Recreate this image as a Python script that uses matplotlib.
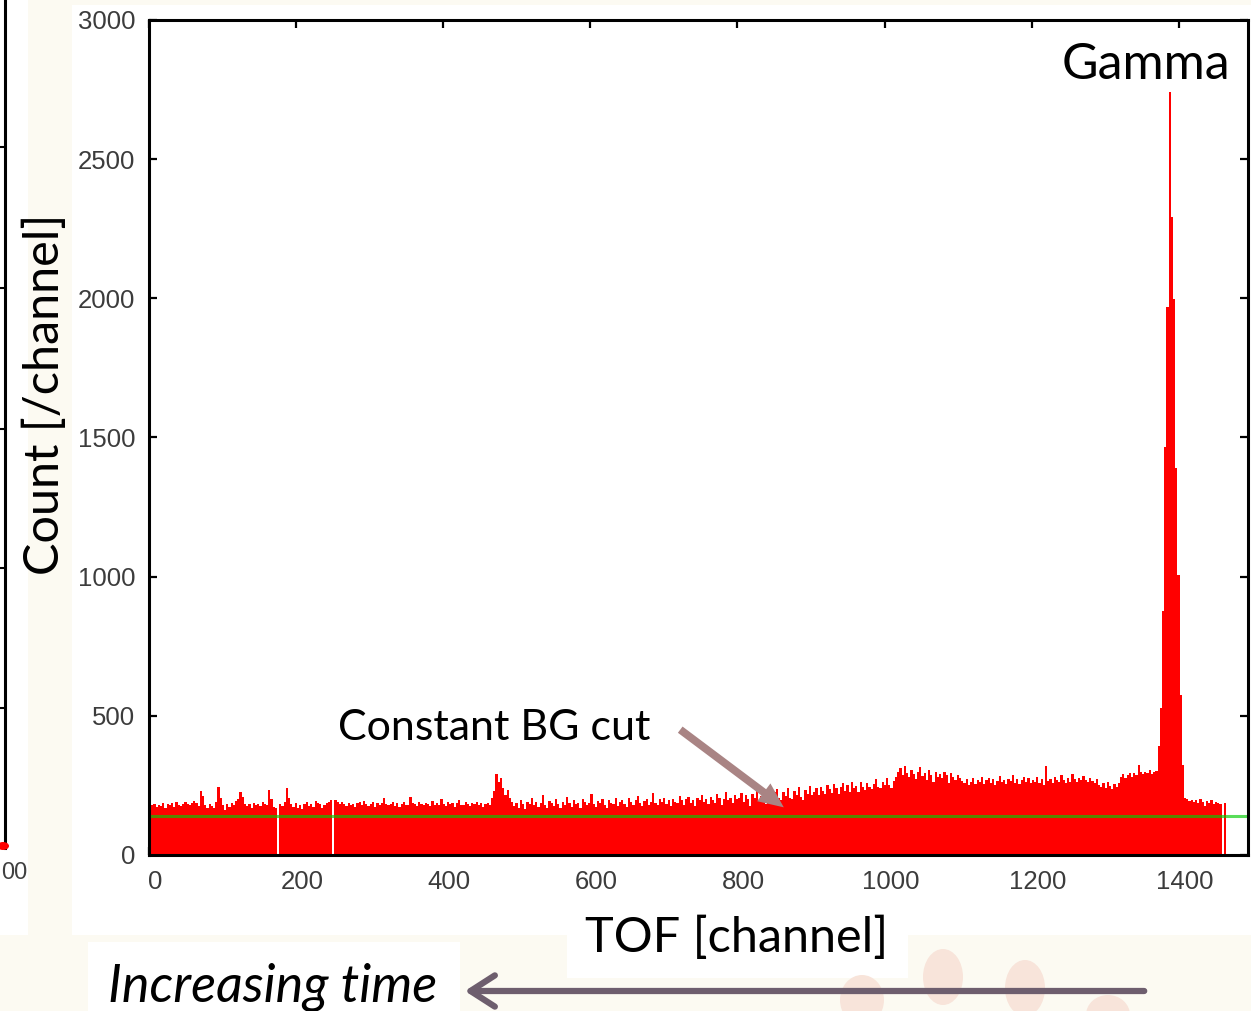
import numpy as np
import matplotlib
matplotlib.use("Agg")
import matplotlib.pyplot as plt
from matplotlib.patches import Rectangle, Ellipse, FancyArrowPatch
from matplotlib.transforms import ScaledTranslation

# ---------------- data (TOF histogram, 3-channel bins starting at 0) ----------------
BIN_WIDTH = 3
seg_a = [190, 178, 185, 172, 180, 176, 188, 170, 182, 179,
         186, 174, 190, 181, 176, 185, 192, 183, 178, 186,
         195, 188, 175, 230, 212, 180, 168, 185, 176, 170,
         190, 245, 205, 178, 160, 182, 174, 188, 180, 195,
         200, 225, 210, 185, 176, 182, 170, 188, 179, 184,
         175, 190, 182, 178, 235, 200, 172, 168]
gap_1 = [0]
seg_b = [185, 176, 192, 240, 205, 182, 174, 188, 170, 178,
         165, 182, 190, 176, 184, 172, 195, 188, 182, 170,
         178, 186, 192, 198]
gap_2 = [0]
seg_c = [196, 190, 185, 192, 182, 176, 188, 180, 185, 172,
         186, 190, 178, 195, 184, 176, 182, 190, 174, 186,
         180, 188, 205, 185, 178, 182, 190, 176, 186, 172,
         184, 192, 180, 178, 210, 186, 182, 176, 190, 185,
         178, 188, 182, 175, 195, 180, 186, 178, 200, 184,
         176, 190, 182, 188, 174, 186, 196, 180, 178, 190,
         184, 176, 188, 182, 192, 178, 186, 174, 182, 188,
         180]
bump_470 = [205, 230, 290, 262, 275, 240, 215, 232, 205]
seg_e = [192, 176, 188, 170, 198, 182, 166, 190, 184, 205,
         178, 192, 172, 186, 215, 180, 170, 194, 186, 176,
         200, 184, 168, 192, 180, 210, 186, 174, 196, 182,
         188, 170, 202, 190, 178, 186, 220, 184, 172, 194,
         186, 200, 178, 168, 196, 188, 182, 206, 176, 190,
         198, 184, 172, 204, 190, 180, 196, 212, 186, 176,
         194, 202, 180, 192, 224, 188, 178, 200, 190, 206,
         184, 196, 176, 202, 192, 186, 212, 196, 180, 200,
         208, 188, 198, 176, 206, 196, 214, 190, 200, 184,
         210, 198, 188, 218, 204, 180, 200, 226, 196, 206,
         188, 214, 200]
seg_f = [206, 222, 190, 214, 200, 176, 218, 206, 230, 196,
         212, 224, 184, 220, 210, 198, 226, 236, 204, 196,
         228, 212, 240, 206, 200, 230, 216, 244, 208, 196,
         232, 218, 248, 214]
seg_g = [228, 242, 214, 246, 230, 220, 250, 236, 222, 256,
         240, 218, 244, 258, 230, 250, 226, 262, 240, 248,
         228, 264, 244, 232, 258, 246, 236, 254, 272, 244,
         240, 262, 250, 276, 252, 242, 266, 280]
seg_h = [300, 312, 286, 318, 296, 280, 306, 290, 274, 300,
         316, 284, 296, 270, 304, 288, 262, 298, 282, 292,
         276, 300, 286, 258, 294, 280, 270, 288, 276]
seg_i = [266, 258, 272, 250, 264, 276, 256, 270, 262, 282,
         254, 268, 278, 260, 272, 250, 266, 284, 262, 270,
         256, 274, 266, 288, 260, 272, 254, 268, 280, 262,
         276, 258, 270, 264, 282, 260, 272, 250, 318, 266,
         274, 260, 280, 268, 262, 286, 270, 258, 276, 264,
         290, 272, 262, 278, 268, 284, 270, 262, 276, 266,
         258, 272]
seg_j = [252, 244, 258, 240, 262, 248, 236, 254, 246, 260]
seg_k = [282, 290, 276, 288, 294, 280, 296, 286, 322, 298,
         292, 300, 296, 304, 290, 298, 302]
gamma_peak = [390, 528, 877, 1465, 1970, 2742, 2292, 1998, 1391, 1005, 574, 325, 206]
seg_m = [200, 194, 198, 190, 196, 188, 200, 192, 176, 194,
         188, 196, 182, 190, 186, 184]
tail_end = [0, 188]

bg_cut = 140
x_ticks = [0, 200, 400, 600, 800, 1000, 1200, 1400]
y_ticks = [0, 500, 1000, 1500, 2000, 2500, 3000]

counts = np.array(seg_a + gap_1 + seg_b + gap_2 + seg_c + bump_470 + seg_e + seg_f +
                  seg_g + seg_h + seg_i + seg_j + seg_k + gamma_peak + seg_m + tail_end, float)
edges = np.arange(len(counts) + 1) * BIN_WIDTH

# ---------------- figure ----------------
W, H = 1251, 1011
fig = plt.figure(figsize=(W / 100, H / 100), dpi=100, facecolor="#fcfaf2")

def fx(x):
    return x / W

def fy(y):
    return 1 - y / H

def add_rect(x0, y0, x1, y1, color):
    fig.add_artist(Rectangle((fx(x0), fy(y1)), fx(x1) - fx(x0), fy(y0) - fy(y1),
                             transform=fig.transFigure, facecolor=color,
                             edgecolor="none", zorder=0))

# white panels (slide background pieces)
add_rect(72, 5, 1251, 935, "white")
add_rect(0, 0, 28, 935, "white")
add_rect(88, 942, 460, 1011, "white")
add_rect(567, 920, 908, 978, "white")

# peach decorations
for (cx, cy, ew, eh) in [(862, 1000, 44, 50), (943, 977, 40, 56), (1025, 988, 40, 56), (1108, 1015, 44, 40)]:
    fig.add_artist(Ellipse((fx(cx), fy(cy)), ew / W, eh / H, transform=fig.transFigure,
                           facecolor="#f8e4da", edgecolor="none", zorder=0.5))

# left fragment of neighbouring chart
fig.add_artist(plt.Line2D([fx(5), fx(5)], [fy(0), fy(848)], transform=fig.transFigure,
                          color="black", lw=2.2, zorder=1))
for ty in [147, 288, 429, 568, 708]:
    fig.add_artist(plt.Line2D([fx(0), fx(5)], [fy(ty), fy(ty)], transform=fig.transFigure,
                              color="black", lw=1.5, zorder=1))
fig.add_artist(Ellipse((fx(3), fy(846)), 12 / W, 8 / H, transform=fig.transFigure,
                       facecolor="red", edgecolor="none", zorder=1))
fig.text(fx(1), fy(873), "00", ha="left", va="center", fontsize=17,
         family="Liberation Sans", color="#404040")

# ---------------- axes ----------------
ax = fig.add_axes([fx(149), fy(855), fx(1248) - fx(149), fy(20) - fy(855)])
ax.set_facecolor("white")
ax.stairs(counts, edges, fill=True, color="red", linewidth=0, zorder=2)
ax.axhline(bg_cut, color=(0.0, 0.8, 0.0), alpha=0.65, lw=2.2, zorder=3)

ax.set_xlim(0, 1494)
ax.set_ylim(0, 3000)
ax.set_xticks(x_ticks)
ax.set_yticks(y_ticks)
ax.tick_params(direction="in", length=6, width=1.6, top=True, right=True,
               labelsize=18.5, labelcolor="#3c3c3c", color="black")
ax.tick_params(axis="x", pad=11)
ax.tick_params(axis="y", pad=10)
for lab in ax.get_xticklabels() + ax.get_yticklabels():
    lab.set_family("Liberation Sans")
for lab in ax.get_xticklabels():
    lab.set_transform(lab.get_transform() + ScaledTranslation(6 / 100, 0, fig.dpi_scale_trans))
for s in ax.spines.values():
    s.set_linewidth(2.2)
    s.set_color("black")
    s.set_zorder(4)

# ---------------- texts ----------------
big = dict(family="Lato", color="black")
fig.text(fx(45), fy(394), "Count [/channel]", rotation=90, ha="center", va="center", fontsize=35, **big)
fig.text(fx(737), fy(938), "TOF [channel]", ha="center", va="center", fontsize=35, **big)
fig.text(fx(1146), fy(65), "Gamma", ha="center", va="center", fontsize=36, **big)
fig.text(fx(494), fy(728), "Constant BG cut", ha="center", va="center", fontsize=31, **big)
fig.text(fx(108), fy(987), "Increasing time", ha="left", va="center", fontsize=37.5,
         style="italic", **big)

# arrows
fig.add_artist(FancyArrowPatch((fx(678), fy(728)), (fx(786), fy(809)), transform=fig.transFigure,
                               arrowstyle="simple,head_length=0.9,head_width=0.8,tail_width=0.28",
                               mutation_scale=20, color="#a98484", lw=0, zorder=5))
fig.add_artist(FancyArrowPatch((fx(1147), fy(991)), (fx(462), fy(991)), transform=fig.transFigure,
                               arrowstyle="->,head_length=0.7,head_width=0.45",
                               mutation_scale=25, color="#6e5e6e", lw=4.5, zorder=5))

fig.savefig("out.png", dpi=100, facecolor=fig.get_facecolor())
